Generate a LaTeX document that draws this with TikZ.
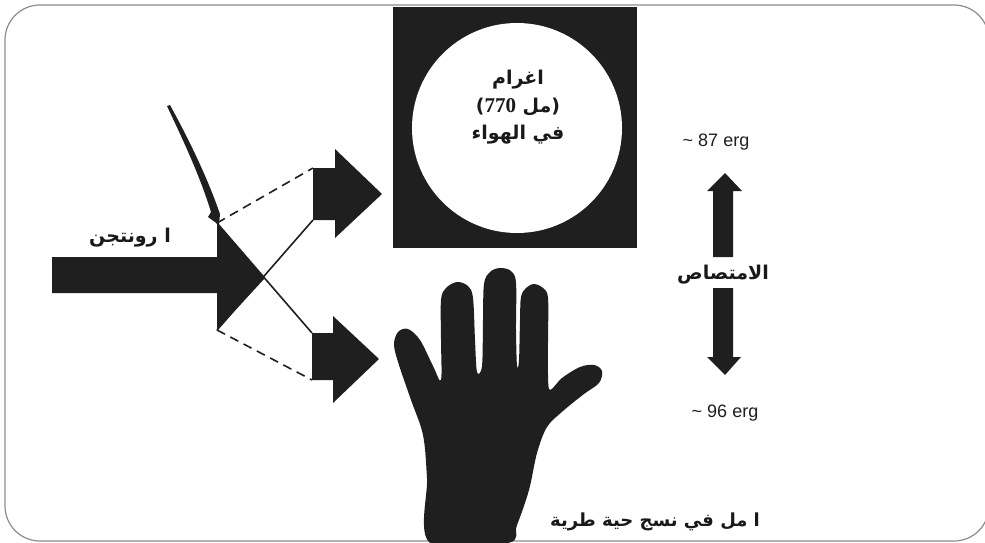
\documentclass[tikz,border=0pt]{standalone}
\usepackage{fontspec}
\setmainfont{Liberation Sans}
\newfontfamily\arabicfont[Script=Arabic]{DejaVu Sans}
\newfontfamily\numfont{Liberation Serif}
\TeXXeTstate=1
\usetikzlibrary{calc}

\begin{document}
\begin{tikzpicture}[x=1pt,y=-1pt,
  ink/.style={fill=black!88, draw=none},
  beam/.style={draw=black!88, line width=1.6pt},
  beamdash/.style={draw=black!88, line width=1.6pt, dash pattern=on 9pt off 6pt},
  frame/.style={draw=black!45, line width=1.2pt, rounded corners=35pt},
  artext/.style={font=\arabicfont\bfseries\fontsize{19}{22}\selectfont, text=black!90, inner sep=0pt},
  ergtext/.style={font=\fontsize{18}{21}\selectfont, text=black!88, inner sep=0pt}]
\useasboundingbox (0,0) rectangle (985,543);
\fill[white] (0,0) rectangle (985,543);
\clip (0,0) rectangle (985,543);

% slide frame
\draw[frame] (5,5) rectangle (989,541);

% incoming beam
\coordinate (bigTop) at (217,223);
\coordinate (bigBot) at (217,330);
\coordinate (bigTip) at (265,278);
\fill[ink] (52,257) -- (217,257) -- (bigTop) -- (bigTip) -- (bigBot) -- (217,293) -- (52,293) -- cycle;

% upper outgoing arrow
\coordinate (upTL) at (313,168);
\coordinate (upBL) at (313,220);
\fill[ink] (upTL) -- (335,168) -- (335,149) -- (382,194) -- (335,238) -- (335,220) -- (upBL) -- cycle;

% lower outgoing arrow
\coordinate (loTL) at (312,333);
\coordinate (loBL) at (312,380);
\fill[ink] (loTL) -- (333,333) -- (333,316) -- (379,359) -- (333,403) -- (333,380) -- (loBL) -- cycle;

% beam edges
\draw[beam] (bigTop) -- (loTL);
\draw[beam] (bigBot) -- (upBL);
\draw[beamdash] (bigTop) -- (upTL);
\draw[beamdash] (bigBot) -- (loBL);

% tapered curved stroke
\fill[ink] (167,106) .. controls (183,140) and (200,176) .. (211,212)
  -- (208,217) -- (219,225) -- (220,214)
  .. controls (206,174) and (188,138) .. (170,105) -- cycle;

\node[artext] (roentgen) at (130,238) {\beginR ا رونتجن\endR};

% gram of air
\fill[ink] (393,7) rectangle (637,248);
\fill[white] (517,128) circle (105);
\node[artext] (gram) at (518,80) {اغرام};
\node[artext] (vol) at (518,107) {\beginR(مل \beginL{\numfont\bfseries\fontsize{21}{22}\selectfont 770}\endL)\endR};
\node[artext] (air) at (518,135) {\beginR في الهواء\endR};

% hand
\fill[ink] plot[smooth cycle, tension=0.55] coordinates {
  (430,543) (427,478) (423,435) (411,400) (399,365) (394,345) (398,332)
  (408,329) (420,340) (433,366) (441,380)
  (441,340) (441,300) (446,288) (457,282) (468,286) (473,298) (475,340) (477,372)
  (482,366) (483,320) (484,284) (490,272) (500,268) (511,271) (516,283) (516,330) (517,366)
  (519,360) (520,320) (521,297) (526,288) (534,284) (543,288) (548,298) (548,340) (548,375)
  (550,390) (562,378) (580,367) (594,365) (602,371) (599,383) (584,394) (563,411)
  (547,427) (537,453) (529,490) (517,525) (508,543)
};

% absorption arrows
\fill[ink] (725,173) -- (742,191) -- (733,191) -- (733,257) -- (713,257) -- (713,191) -- (707,191) -- cycle;
\fill[ink] (713,288) -- (733,288) -- (733,357) -- (741,357) -- (725,375) -- (707,357) -- (713,357) -- cycle;
\node[artext] (absorb) at (723,275) {الامتصاص};
\node[ergtext] (erg1) at (716,142) {\textasciitilde{} 87 erg};
\node[ergtext] (erg2) at (725,413) {\textasciitilde{} 96 erg};

\node[artext, font=\arabicfont\bfseries\fontsize{18}{22}\selectfont] (tissue) at (655,522) {\beginR ا مل في نسج حية طرية\endR};
\end{tikzpicture}
\end{document}
